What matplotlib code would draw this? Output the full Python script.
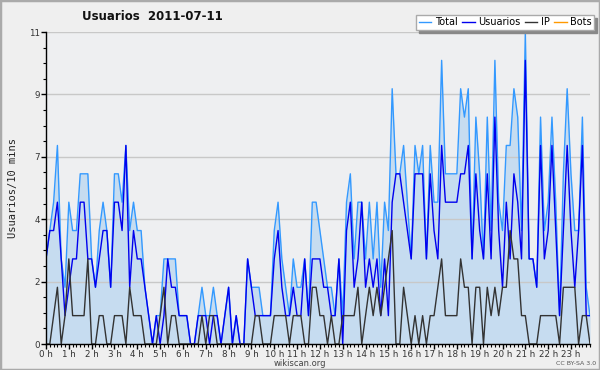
import matplotlib
matplotlib.use("Agg")
import matplotlib.pyplot as plt
from matplotlib.patches import Rectangle
from matplotlib.lines import Line2D
from matplotlib.ticker import MultipleLocator

# ---------------- data (10-minute intervals, 2011-07-11) ----------------
hour_labels = [f"{h} h" for h in range(24)]

total = [3, 4, 5, 7, 3, 2, 5, 4, 4, 6, 6, 6, 3, 2, 4, 5, 4, 2, 6, 6, 5, 7, 4, 5,
         4, 4, 2, 1, 0, 1, 1, 3, 3, 3, 3, 1, 1, 1, 0, 0, 1, 2, 1, 1, 2, 1, 0, 1,
         2, 0, 1, 0, 0, 3, 2, 2, 2, 1, 1, 1, 4, 5, 3, 2, 1, 3, 2, 2, 3, 1, 5, 5,
         4, 3, 2, 2, 1, 3, 1, 5, 6, 3, 5, 5, 3, 5, 3, 5, 2, 5, 4, 9, 6, 6, 7, 5,
         3, 7, 6, 7, 3, 7, 5, 5, 10, 6, 6, 6, 6, 9, 8, 9, 3, 8, 6, 3, 8, 4, 10, 5,
         4, 7, 7, 9, 8, 4, 11, 3, 3, 2, 8, 4, 5, 8, 5, 1, 6, 9, 6, 4, 4, 8, 2, 1]

usuarios = [3, 4, 4, 5, 3, 1, 2, 3, 3, 5, 5, 3, 3, 2, 3, 4, 4, 2, 5, 5, 4, 7, 2, 4,
            3, 3, 2, 1, 0, 1, 0, 1, 3, 2, 2, 1, 1, 1, 0, 0, 1, 1, 1, 0, 1, 1, 0, 1,
            2, 0, 1, 0, 0, 3, 2, 1, 1, 1, 1, 1, 3, 4, 2, 1, 1, 2, 1, 1, 3, 1, 3, 3,
            3, 2, 2, 1, 1, 3, 0, 4, 5, 2, 3, 5, 2, 3, 2, 3, 1, 3, 1, 5, 6, 6, 5, 4,
            3, 6, 6, 6, 3, 6, 4, 3, 7, 5, 5, 5, 5, 6, 6, 7, 3, 6, 4, 3, 6, 3, 8, 4,
            2, 5, 3, 6, 5, 3, 10, 3, 3, 2, 7, 3, 4, 7, 4, 1, 4, 7, 4, 2, 4, 7, 1, 1]

ip = [0, 0, 1, 2, 0, 1, 3, 1, 1, 1, 1, 3, 0, 0, 1, 1, 0, 0, 1, 1, 1, 0, 2, 1,
      1, 1, 0, 0, 0, 0, 1, 2, 0, 1, 1, 0, 0, 0, 0, 0, 0, 1, 0, 1, 1, 0, 0, 0,
      0, 0, 0, 0, 0, 0, 0, 1, 1, 0, 0, 0, 1, 1, 1, 1, 0, 1, 1, 1, 0, 0, 2, 2,
      1, 1, 0, 1, 0, 0, 1, 1, 1, 1, 2, 0, 1, 2, 1, 2, 1, 2, 3, 4, 0, 0, 2, 1,
      0, 1, 0, 1, 0, 1, 1, 2, 3, 1, 1, 1, 1, 3, 2, 2, 0, 2, 2, 0, 2, 1, 2, 1,
      2, 2, 4, 3, 3, 1, 1, 0, 0, 0, 1, 1, 1, 1, 1, 0, 2, 2, 2, 2, 0, 1, 1, 0]

bots = [0] * 144

y_tick_values = [0, 2.2, 4.4, 6.6, 8.8, 11]
y_tick_labels = ["0", "2", "4", "7", "9", "11"]

# ---------------- figure ----------------
W, H = 600, 370
fig = plt.figure(figsize=(W / 100, H / 100), dpi=100, facecolor="#efefef")
ax = fig.add_axes([46 / W, 26 / H, 544 / W, 312 / H])
ax.set_facecolor("#eeeff1")

x = list(range(len(total)))
ax.fill_between(x, 0, total, color="#c6dcf0", lw=0, zorder=1)
ax.plot(x, bots, color="#ff9900", lw=1, zorder=0.5)
ax.plot(x, total, color="#3399ff", lw=1, zorder=3)
ax.plot(x, usuarios, color="#0000ee", lw=1, zorder=4)
ax.plot(x, ip, color="#333333", lw=1, zorder=5)

ax.set_xlim(0, len(total) - 1)
ax.set_ylim(0, 11)

ax.set_yticks(y_tick_values)
ax.set_yticklabels(y_tick_labels)
ax.yaxis.set_minor_locator(MultipleLocator(0.55))
ax.yaxis.grid(True, which="major", color="#c8c8c8", lw=1)
for gl in ax.yaxis.get_gridlines():
    gl.set_zorder(2)

ax.set_xticks([6 * h for h in range(24)])
ax.set_xticklabels(hour_labels)
ax.xaxis.set_minor_locator(MultipleLocator(1))

ax.tick_params(axis="both", which="major", direction="out", length=3.5, width=1,
               labelsize=6.3, colors="#000000", labelcolor="#333333", pad=0.8)
ax.tick_params(axis="both", which="minor", direction="out", length=2.2, width=0.8,
               colors="#000000")

for s in ["top", "right"]:
    ax.spines[s].set_visible(False)
for s in ["left", "bottom"]:
    ax.spines[s].set_color("#000000")
    ax.spines[s].set_linewidth(1)
    ax.spines[s].set_zorder(6)

ax.set_ylabel("Usuarios/10 mins", family="DejaVu Sans Mono", fontsize=7.5,
              color="#222222", labelpad=8)

fig.text(152 / W, 1 - 16 / H, "Usuarios  2011-07-11", ha="center", va="center",
         fontsize=8.5, fontweight="bold", color="#111111")

handles = [Line2D([], [], color="#3399ff", lw=1),
           Line2D([], [], color="#0000ee", lw=1),
           Line2D([], [], color="#333333", lw=1),
           Line2D([], [], color="#ff9900", lw=1)]
leg = fig.legend(handles, ["Total", "Usuarios", "IP", "Bots"], ncol=4,
                 loc="upper right", bbox_to_anchor=(594 / W, 1 - 15 / H),
                 fontsize=7, frameon=True, fancybox=False,
                 handlelength=1.3, handletextpad=0.35, columnspacing=0.45,
                 borderpad=0.25, borderaxespad=0,
                 shadow={"color": "#888888", "alpha": 1})
leg.get_frame().set_facecolor("white")
leg.get_frame().set_edgecolor("#aaaaaa")
leg.get_frame().set_linewidth(1)

fig.text(300 / W, 1 - 363.5 / H, "wikiscan.org", ha="center", va="center",
         fontsize=6, color="#444444")
fig.text(596 / W, 1 - 363.5 / H, "CC BY-SA 3.0", ha="right", va="center",
         fontsize=4.5, color="#555555")

fig.patches.append(Rectangle((0, 0), 1, 1, transform=fig.transFigure, fill=False,
                             edgecolor="#aaaaaa", lw=2.5, zorder=10))

fig.savefig("out.png", dpi=100, facecolor=fig.get_facecolor())
